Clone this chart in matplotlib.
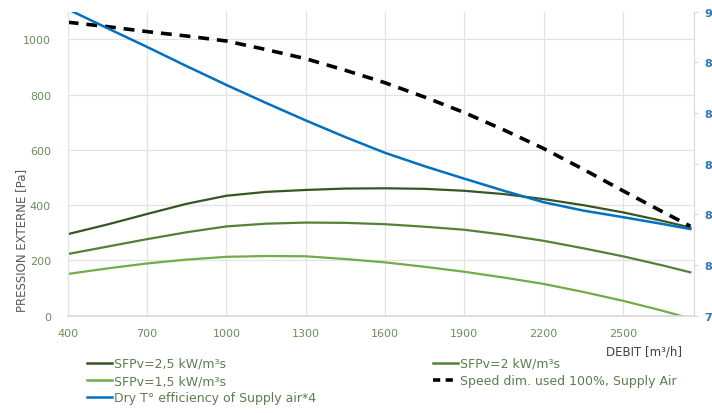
import matplotlib
matplotlib.use("Agg")
import matplotlib.pyplot as plt
from matplotlib.lines import Line2D

# ---- data ----
debit = [400, 550, 700, 850, 1000, 1150, 1300, 1450, 1600, 1750, 1900,
         2050, 2200, 2350, 2500, 2650, 2755]
sfp_25 = [295, 330, 368, 405, 434, 448, 455, 460, 461, 459, 452,
          440, 422, 400, 374, 343, 319]
sfp_20 = [223, 250, 277, 302, 323, 333, 337, 336, 331, 322, 311,
          293, 271, 244, 215, 182, 157]
sfp_15 = [151, 171, 189, 203, 213, 216, 215, 205, 193, 177, 159,
          138, 115, 86, 54, 18, -10]
speed_100 = [1062, 1046, 1028, 1012, 994, 963, 930, 888, 843, 791, 735,
             672, 605, 530, 452, 376, 324]
dry_eff = [90.10, 89.35, 88.61, 87.85, 87.11, 86.40, 85.71, 85.05, 84.43,
           83.90, 83.41, 82.93, 82.48, 82.15, 81.89, 81.62, 81.42]

x_ticks = [400, 700, 1000, 1300, 1600, 1900, 2200, 2500]
y_ticks = [0, 200, 400, 600, 800, 1000]
y2_ticks = [78, 80, 82, 84, 86, 88, 90]
y2_ticklabels = ["7", "8", "8", "8", "8", "8", "9"]

labels = ["SFPv=2,5 kW/m³s", "SFPv=2 kW/m³s", "SFPv=1,5 kW/m³s",
          "Speed dim. used 100%, Supply Air", "Dry T° efficiency of Supply air*4"]

c_dark = "#375623"
c_mid = "#548235"
c_light = "#70AD47"
c_blue = "#0070C0"
c_tick = "#6e8c5c"
c_text = "#5e7d4d"

W, H = 712, 414
fig = plt.figure(figsize=(W / 100, H / 100), dpi=100)
ax = fig.add_axes([67.7 / W, 1 - 316.7 / H, (694.3 - 67.7) / W, (316.7 - 12.7) / H])

ax.plot(debit, sfp_25, color=c_dark, lw=1.6)
ax.plot(debit, sfp_20, color=c_mid, lw=1.6)
ax.plot(debit, sfp_15, color=c_light, lw=1.6)
ax.plot(debit, speed_100, color="black", lw=2.6, dashes=(3, 2.2))

ax.set_xlim(400, 2770)
ax.set_ylim(0, 1100)
ax.set_xticks(x_ticks)
ax.set_yticks(y_ticks)
ax.grid(True, color="#e3e3e3", lw=0.9)
ax.set_axisbelow(True)
for s in ["top", "right"]:
    ax.spines[s].set_visible(False)
ax.spines["left"].set_color("#e3e3e3")
ax.spines["bottom"].set_color("#d9d9d9")
ax.spines["bottom"].set_linewidth(1.2)
ax.tick_params(axis="both", length=0, labelsize=8, labelcolor=c_tick)
ax.tick_params(axis="y", pad=12)
ax.tick_params(axis="x", pad=9)

ax2 = ax.twinx()
ax2.plot(debit, dry_eff, color=c_blue, lw=1.8)
ax2.set_ylim(78, 90)
ax2.set_yticks(y2_ticks)
ax2.set_yticklabels(y2_ticklabels)
for s in ["top", "left", "bottom"]:
    ax2.spines[s].set_visible(False)
ax2.spines["right"].set_color("#d9d9d9")
ax2.tick_params(axis="y", length=3, color="#d9d9d9", pad=4, labelsize=8,
                labelcolor="#2e75b6")
for t in ax2.get_yticklabels():
    t.set_fontweight("bold")

fig.text(21.7 / W, 1 - 240 / H, "PRESSION EXTERNE [Pa]", rotation=90,
         ha="center", va="center", fontsize=8.5, color="#595959")
fig.text(682 / W, 1 - 352 / H, "DEBIT [m³/h]", ha="right", va="center",
         fontsize=8.5, color="#404040")

h25 = Line2D([], [], color=c_dark, lw=1.8)
h20 = Line2D([], [], color=c_mid, lw=1.8)
h15 = Line2D([], [], color=c_light, lw=1.8)
hsp = Line2D([], [], color="black", lw=2.6, dashes=(2, 1.5))
hbl = Line2D([], [], color=c_blue, lw=1.8)

common = dict(frameon=False, fontsize=9, handlelength=2.0, handletextpad=0.15,
              labelspacing=0.33, borderpad=0, borderaxespad=0, labelcolor=c_text)
leg1 = fig.legend([h25, h15, hbl], [labels[0], labels[2], labels[4]],
                  loc="upper left", bbox_to_anchor=(87 / W, 1 - 358 / H), **common)
leg2 = fig.legend([h20, hsp], [labels[1], labels[3]],
                  loc="upper left", bbox_to_anchor=(433 / W, 1 - 358 / H), **common)

fig.savefig("out.png", dpi=100)
